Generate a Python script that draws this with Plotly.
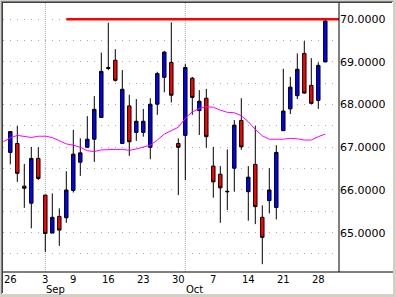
import plotly.graph_objects as go
from datetime import date

# ---------------- data ----------------
dates = [
    "2007-08-26", "2007-08-27", "2007-08-28", "2007-08-29", "2007-08-30",
    "2007-09-03", "2007-09-04", "2007-09-05", "2007-09-06",
    "2007-09-09", "2007-09-10", "2007-09-11", "2007-09-12", "2007-09-13",
    "2007-09-16", "2007-09-17", "2007-09-18", "2007-09-19", "2007-09-20",
    "2007-09-23", "2007-09-24", "2007-09-25", "2007-09-26", "2007-09-27",
    "2007-09-30", "2007-10-01", "2007-10-02", "2007-10-03", "2007-10-04",
    "2007-10-07", "2007-10-08", "2007-10-09", "2007-10-10", "2007-10-11",
    "2007-10-14", "2007-10-15", "2007-10-16", "2007-10-17", "2007-10-18",
    "2007-10-21", "2007-10-22", "2007-10-23", "2007-10-24", "2007-10-25",
    "2007-10-28", "2007-10-29",
]
opens = [66.88, 67.09, 66.09, 65.69, 66.74, 65.88, 64.99, 65.38, 65.35, 65.99,
         66.65, 67.00, 67.19, 67.70, 68.87, 69.04, 67.09, 67.97, 67.35, 67.35,
         67.00, 68.01, 68.64, 68.99, 67.09, 67.28, 68.62, 67.86, 68.15, 66.56,
         66.37, 65.97, 66.51, 67.63, 65.96, 66.60, 65.36, 65.75, 65.59, 67.39,
         67.90, 68.21, 69.20, 68.45, 68.10, 69.00]
highs = [67.38, 67.50, 66.61, 67.01, 67.00, 65.89, 65.92, 65.57, 66.44, 67.41,
         67.21, 67.73, 68.20, 69.22, 69.92, 69.30, 68.81, 68.23, 68.13, 67.90,
         68.15, 68.77, 69.26, 69.93, 67.21, 68.95, 68.65, 68.34, 68.37, 67.01,
         66.56, 66.95, 67.64, 68.15, 66.56, 67.50, 65.64, 66.51, 67.05, 68.84,
         68.65, 69.20, 69.49, 69.09, 68.99, 70.00]
lows = [66.60, 66.19, 65.58, 65.10, 66.23, 64.55, 64.99, 64.69, 65.23, 65.94,
        66.33, 67.00, 66.66, 67.70, 68.81, 68.54, 67.08, 66.80, 67.15, 67.25,
        66.72, 67.76, 68.29, 68.05, 65.88, 66.23, 67.76, 67.29, 66.99, 65.82,
        65.23, 65.53, 65.96, 66.94, 65.28, 65.20, 64.26, 65.45, 65.31, 67.39,
        67.78, 68.13, 68.26, 68.01, 67.90, 69.00]
closes = [67.37, 66.39, 66.04, 66.74, 66.27, 64.98, 65.36, 65.06, 66.00, 66.84,
          66.87, 67.19, 67.89, 68.78, 68.85, 68.57, 68.36, 67.13, 67.61, 67.61,
          68.01, 68.73, 69.23, 68.22, 67.00, 68.87, 68.17, 68.08, 67.25, 66.19,
          66.05, 65.96, 67.52, 67.01, 66.30, 65.61, 64.89, 66.00, 66.88, 67.85,
          68.41, 68.83, 68.27, 68.03, 68.92, 69.96]
# moving average, first value belongs to the session before the first candle
moving_avg = [67.13,
              67.22, 67.28, 67.26, 67.23, 67.26, 67.26, 67.23, 67.15, 67.08, 67.05,
              67.00, 66.92, 66.90, 66.94, 66.95, 66.95, 66.95, 66.93, 66.96, 67.01,
              67.05, 67.17, 67.31, 67.39, 67.47, 67.68, 67.83, 67.91, 67.95, 67.94,
              67.87, 67.82, 67.81, 67.74, 67.60, 67.42, 67.27, 67.19, 67.19, 67.19,
              67.21, 67.20, 67.17, 67.17, 67.25, 67.31]
resistance_level = 70.0
resistance_start = "2007-09-06"
y_tick_values = [64.5, 65.0, 65.5, 66.0, 66.5, 67.0, 67.5, 68.0, 68.5, 69.0, 69.5, 70.0]
month_names = {9: "Sep", 10: "Oct"}

# ---------------- derived ----------------
d = [date.fromisoformat(s) for s in dates]
idx = list(range(len(d)))
tick_idx, tick_txt = [], []
month_idx, month_txt = [], []
for i, day in enumerate(d):
    if i == 0 or (day - d[i - 1]).days > 1:
        tick_idx.append(i)
        tick_txt.append(str(day.day))
    if i > 0 and day.month != d[i - 1].month:
        month_idx.append(i)
        month_txt.append(month_names[day.month])
ma_x = list(range(-1, len(d)))
x_min, x_max = -1.043, len(d) + 0.957
res_i = dates.index(resistance_start)

W, H = 396, 297
ML, MR, MT, MB = 3, 57, 3, 25
PW, PH = W - ML - MR, H - MT - MB
def px(x):
    return (x - ML) / PW
def py(y):
    return (H - MB - y) / PH

FONT = "DejaVu Sans"

fig = go.Figure()
fig.add_trace(go.Scatter(x=ma_x, y=moving_avg, mode="lines",
                         line=dict(color="#ff00ff", width=1), hoverinfo="skip"))
fig.add_trace(go.Candlestick(
    x=idx, open=opens, high=highs, low=lows, close=closes,
    increasing=dict(fillcolor="#0000ff", line=dict(color="#000000", width=1)),
    decreasing=dict(fillcolor="#ff0000", line=dict(color="#000000", width=1)),
))
fig.add_trace(go.Scatter(x=[res_i, x_max], y=[resistance_level, resistance_level],
                         mode="lines", line=dict(color="#ff0000", width=2.5),
                         hoverinfo="skip"))

shapes = []
# month gridlines
for m in month_idx:
    shapes.append(dict(type="line", xref="x", yref="paper", x0=m, x1=m, y0=0, y1=1,
                       line=dict(color="#a8a8a8", width=1, dash="1px,1px"), layer="below"))
# axes lines
shapes.append(dict(type="line", xref="paper", yref="paper", x0=px(3), x1=px(393),
                   y0=0, y1=0, line=dict(color="#000000", width=1), layer="above"))
shapes.append(dict(type="line", xref="paper", yref="paper", x0=1, x1=1,
                   y0=0, y1=1, line=dict(color="#000000", width=1), layer="above"))
# window frame
def rect(x0, y0, x1, y1, color):
    shapes.append(dict(type="rect", xref="paper", yref="paper",
                       x0=px(x0), x1=px(x1), y0=py(y1), y1=py(y0),
                       fillcolor=color, line=dict(width=0), layer="above"))
rect(0, 294, 396, 297, "#d4d0c8")
rect(393, 0, 396, 297, "#d4d0c8")
rect(0, 0, 1, 297, "#d4d0c8")
rect(0, 0, 396, 1, "#d4d0c8")
rect(1, 1, 2, 294, "#808080")
rect(1, 1, 393, 2, "#808080")
rect(2, 2, 3, 293, "#404040")
rect(2, 2, 392, 3, "#404040")

annotations = []
for m, t in zip(month_idx, month_txt):
    annotations.append(dict(x=m, xref="x", y=py(289.5), yref="paper", text=t,
                            showarrow=False, xanchor="left", yanchor="middle",
                            xshift=-1, font=dict(family=FONT, size=10, color="#000000")))

fig.update_layout(
    width=W, height=H,
    margin=dict(l=ML, r=MR, t=MT, b=MB, pad=0),
    paper_bgcolor="#ffffff", plot_bgcolor="#ffffff",
    showlegend=False,
    shapes=shapes, annotations=annotations,
    font=dict(family=FONT, size=11, color="#000000"),
    xaxis=dict(range=[x_min, x_max], tickmode="array", tickvals=tick_idx, ticktext=tick_txt,
               showgrid=False, zeroline=False, showline=False, ticks="",
               rangeslider=dict(visible=False), fixedrange=True,
               tickfont=dict(family=FONT, size=10, color="#000000")),
    yaxis=dict(range=[64.078, 70.382], side="right", tickmode="array",
               tickvals=y_tick_values,
               ticktext=[("%.4f" % v) if abs(v - round(v)) < 1e-9 else "" for v in y_tick_values],
               showgrid=True, gridcolor="#a8a8a8", griddash="1px,6px", gridwidth=1,
               zeroline=False, showline=False, ticks="", fixedrange=True,
               tickfont=dict(family=FONT, size=11, color="#000000")),
)
fig.write_html("out.html")
